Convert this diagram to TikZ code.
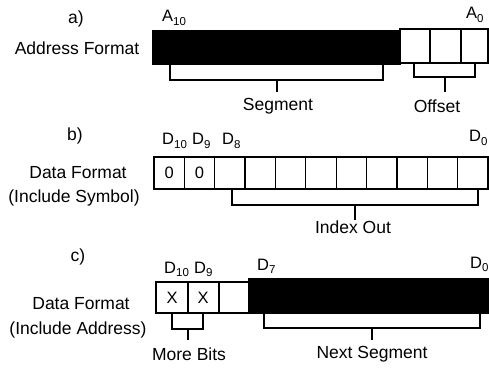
\documentclass[tikz,border=0pt]{standalone}
\usepackage{fontspec}
\setmainfont{Liberation Sans}
\newcommand\bitsub[1]{\raisebox{-3.5pt}{\fontsize{11.5}{12}\selectfont #1}}
\begin{document}
\begin{tikzpicture}[x=1pt,y=-1pt,
  cell/.style={draw=black, line width=1.3pt},
  blk/.style={fill=black, draw=black, line width=1.3pt},
  brk/.style={draw=black, line width=1.1pt},
  lbl/.style={font=\fontsize{17.5}{20}\selectfont, inner sep=0pt},
  bitlbl/.style={font=\fontsize{16.5}{18}\selectfont, inner sep=0pt, anchor=base west},
  val/.style={font=\fontsize{16.5}{18}\selectfont, inner sep=0pt}]
\useasboundingbox (0,0) rectangle (489,371);
% ---------------- a) ----------------
\node[lbl] (la) at (76,19) {a)};
\node[lbl] (addr) at (77,48) {Address Format};
\node[bitlbl] (a10) at (162,22) {A\bitsub{10}};
\node[bitlbl] (a0) at (466,19) {A\bitsub{0}};
\draw[blk] (153,31) rectangle (400,64);
\draw[cell] (400,29) rectangle (430,63);
\draw[cell] (430,29) rectangle (461,63);
\draw[cell] (461,29) rectangle (488,63);
\node[lbl] (seg) at (278,106) {Segment};
\node[lbl] (off) at (437,106) {Offset};
\coordinate (sg) at (277,80);
\coordinate (of) at (445,77);
\draw[brk] (170,65) -- (170,80) -- (383,80) -- (383,65);
\draw[brk] (sg) -- (277,92);
\draw[brk] (414,63) -- (414,77) -- (475,77) -- (475,63);
\draw[brk] (of) -- (445,92);
% ---------------- b) ----------------
\node[lbl] (lb) at (75,136) {b)};
\node[lbl] (dfb) at (78,173) {Data Format};
\node[lbl] (isym) at (74,198) {(Include Symbol)};
\node[bitlbl] (b10) at (162,145) {D\bitsub{10}};
\node[bitlbl] (b9) at (192,145) {D\bitsub{9}};
\node[bitlbl] (b8) at (222,145) {D\bitsub{8}};
\node[bitlbl] (b0) at (469,142) {D\bitsub{0}};
\foreach \i in {0,...,10}{
  \draw[cell] ({154+30.36*\i},157) rectangle ({154+30.36*(\i+1)},189);
}
\node[val] (z1) at (169.2,173) {0};
\node[val] (z2) at (199.5,173) {0};
\node[lbl] (idx) at (353,227) {Index Out};
\coordinate (ix) at (355,205);
\draw[brk] (232,189) -- (232,205) -- (478,205) -- (478,189);
\draw[brk] (ix) -- (355,220);
% ---------------- c) ----------------
\node[lbl] (lc) at (78,257) {c)};
\node[lbl] (dfc) at (81,304) {Data Format};
\node[lbl] (iadr) at (78,330) {(Include Address)};
\node[bitlbl] (c10) at (164,273) {D\bitsub{10}};
\node[bitlbl] (c9) at (194,273) {D\bitsub{9}};
\node[bitlbl] (c7) at (257,270) {D\bitsub{7}};
\node[bitlbl] (c0) at (470,268) {D\bitsub{0}};
\draw[cell] (156,282) rectangle (188,313);
\draw[cell] (188,282) rectangle (219,313);
\draw[cell] (219,282) rectangle (249,313);
\draw[blk] (249,279) rectangle (488,313);
\node[val] (x1) at (172,298) {X};
\node[val] (x2) at (203,298) {X};
\node[lbl] (more) at (189,354) {More Bits};
\node[lbl] (next) at (372,354) {Next Segment};
\coordinate (mb) at (188,329);
\coordinate (ns) at (372,328);
\draw[brk] (172,313) -- (172,329) -- (203,329) -- (203,313);
\draw[brk] (mb) -- (188,340);
\draw[brk] (264,314) -- (264,328) -- (480,328) -- (480,314);
\draw[brk] (ns) -- (372,340);
\end{tikzpicture}
\end{document}
